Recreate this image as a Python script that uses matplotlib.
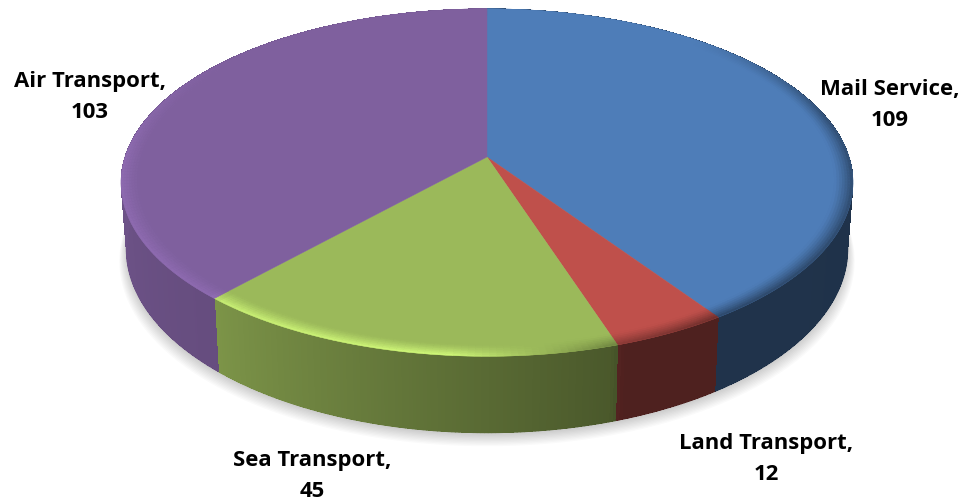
import numpy as np
import matplotlib
matplotlib.use('Agg')
import matplotlib.pyplot as plt
from matplotlib.collections import PolyCollection, LineCollection

categories = ['Mail Service', 'Land Transport', 'Sea Transport', 'Air Transport']
values = [109, 12, 45, 103]
colors = ['#4e7db8', '#bf504b', '#9bb95a', '#7f609e']
label_x = [890, 766, 312, 90]
label_y = [105, 459, 476, 97]

# perspective of the pie disc, in pixels
cx, cy, rx, ry, k = 487, 158, 362, 170, 0.147
depth = 65


def project(theta, r=1.0, drop=0.0, shrink=1.0):
    s = r * np.sin(np.radians(theta))
    d = r * -np.cos(np.radians(theta))
    w = 1 - k * d
    return cx + shrink * rx * s / w, cy + (ry * d + drop) / w


def hexrgb(c):
    return np.array(matplotlib.colors.to_rgb(c))


def side_shade(theta):
    return np.interp(theta, [0, 100, 150, 161, 163, 222, 270, 360],
                     [.4, .4, .41, .41, .48, .8, .87, .87])


def bevel_shade(theta):
    return np.interp(theta, [0, 40, 75, 145, 163, 185, 221, 223, 270, 310, 360],
                     [1, 1, .62, .55, .72, 1.36, 1.3, 1.12, 1.12, 1, 1])


fig = plt.figure(figsize=(9.65, 5.02), dpi=100)
ax = fig.add_axes([0, 0, 1, 1])
ax.set_xlim(0, 965)
ax.set_ylim(502, 0)
ax.axis('off')

# soft shadow under the disc
t = np.linspace(0, 360, 361)
for i in range(10):
    x, y = project(t, drop=depth + 1 + i * 1.1, shrink=0.985 + i * 0.0022)
    ax.fill(x, y + 1, color='black', alpha=0.018, lw=0, zorder=1)

angles = np.concatenate([[0], np.cumsum(values) / np.sum(values) * 360])

# side wall, no antialias so the strips leave no seams
polys, cols, edge_segs, edge_cols = [], [], [], []
for i in range(len(values)):
    t = np.linspace(angles[i], angles[i + 1], int(angles[i + 1] - angles[i]) * 2 + 2)
    for a, b in zip(t[:-1], t[1:]):
        x1, y1 = project(np.array([a, b]))
        x2, y2 = project(np.array([b, a]), drop=depth, shrink=0.985)
        c = np.clip(hexrgb(colors[i]) * side_shade((a + b) / 2), 0, 1)
        polys.append(np.column_stack([np.r_[x1, x2], np.r_[y1, y2]]))
        cols.append(c)
        edge_segs.append(np.column_stack([x2, y2]))
        edge_cols.append(c)
ax.add_collection(PolyCollection(polys, facecolors=cols, edgecolors='none', antialiaseds=False, zorder=2))
ax.add_collection(LineCollection(edge_segs, colors=edge_cols, linewidths=1.0, capstyle='round', zorder=2))

# top face of each slice
for i in range(len(values)):
    t = np.linspace(angles[i], angles[i + 1], 200)
    x, y = project(t)
    ax.fill(np.r_[cx, x], np.r_[cy, y], color=colors[i], lw=0.3, zorder=3)

# bevel along the rim
polys, cols = [], []
rings = np.linspace(0.95, 1.0, 8)
for i in range(len(values)):
    t = np.linspace(angles[i], angles[i + 1], int(angles[i + 1] - angles[i]) + 2)
    for a, b in zip(t[:-1], t[1:]):
        shade = bevel_shade((a + b) / 2)
        for j, (r0, r1) in enumerate(zip(rings[:-1], rings[1:])):
            x1, y1 = project(np.array([a, b]), r=r0)
            x2, y2 = project(np.array([b, a]), r=r1)
            mix = ((j + 0.5) / 7) ** 1.3
            f = 1 + (shade - 1) * mix
            polys.append(np.column_stack([np.r_[x1, x2], np.r_[y1, y2]]))
            cols.append(np.clip(hexrgb(colors[i]) * f, 0, 1))
ax.add_collection(PolyCollection(polys, facecolors=cols, edgecolors=cols, linewidths=0.3, zorder=4))

for name, val, lx, ly in zip(categories, values, label_x, label_y):
    ax.text(lx, ly, f'{name},\n{val}', ha='center', va='center', fontsize=15.9,
            fontweight='bold', family='Open Sans', linespacing=1.58, color='black', zorder=5)

fig.savefig('out.png', dpi=100)
